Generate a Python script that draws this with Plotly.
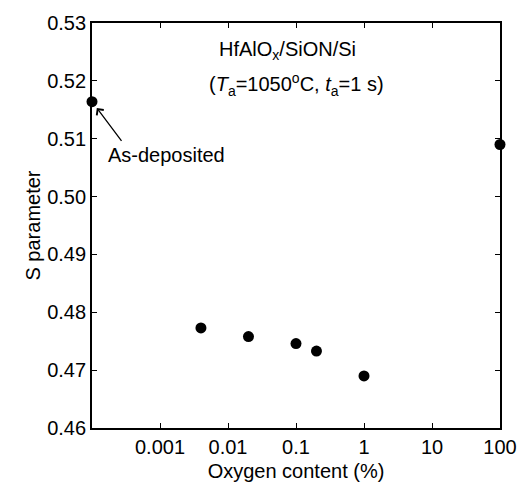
import plotly.graph_objects as go

oxygen_content = [0.0001, 0.004, 0.02, 0.1, 0.2, 1, 100]
s_parameter = [0.5164, 0.4773, 0.4758, 0.4746, 0.4733, 0.4690, 0.5090]
x_tick_vals = [0.001, 0.01, 0.1, 1, 10, 100]
x_tick_text = ["0.001", "0.01", "0.1", "1", "10", "100"]
y_tick_vals = [0.46, 0.47, 0.48, 0.49, 0.50, 0.51, 0.52, 0.53]

FONT = "Liberation Sans, Arial, sans-serif"
FS = 20

fig = go.Figure()
fig.add_trace(go.Scatter(
    x=oxygen_content, y=s_parameter, mode="markers",
    marker=dict(color="black", size=11, symbol="circle"),
    cliponaxis=False, showlegend=False,
))

axis_common = dict(
    showline=True, linecolor="black", linewidth=1.8, mirror="allticks",
    ticks="inside", ticklen=5, tickwidth=1.3, tickcolor="black",
    showgrid=False, zeroline=False,
    tickfont=dict(family=FONT, size=FS, color="black"),
)

fig.update_xaxes(
    type="log", range=[-4, 2], tickvals=x_tick_vals, ticktext=x_tick_text,
    title=dict(text="Oxygen content (%)", font=dict(family=FONT, size=FS, color="black"), standoff=7),
    **axis_common,
)
fig.update_yaxes(
    range=[0.46, 0.53], tickvals=y_tick_vals, tickformat=".2f",
    title=dict(text="S parameter", font=dict(family=FONT, size=FS, color="black"), standoff=1),
    **axis_common,
)

fig.add_annotation(x=0.48, xref="x domain", y=1 - (47 - 19) / 409, yref="paper", yanchor="middle",
                   text="HfAlO<sub>x</sub>/SiON/Si", showarrow=False,
                   font=dict(family=FONT, size=FS, color="black"))
fig.add_annotation(x=0.5, xref="x domain", y=1 - (81 - 19) / 409, yref="paper", yanchor="middle",
                   text="(<i>T</i><sub>a</sub>=1050<sup>o</sup>C, <i>t</i><sub>a</sub>=1 s)", showarrow=False,
                   font=dict(family=FONT, size=FS, color="black"))
fig.add_annotation(x=-4, y=0.5164, xref="x", yref="y",
                   ax=-4 + (123 - 92) / 68.8, ay=0.5164 - (140 - 99) / 5843,
                   axref="x", ayref="y",
                   text="", showarrow=True, arrowhead=4, arrowsize=1.3, arrowwidth=1.3,
                   arrowcolor="black", standoff=8)
fig.add_annotation(x=-4 + (106 - 92) / 68.8, y=0.5164 - (153 - 99) / 5843, xref="x", yref="y",
                   xanchor="left", yanchor="middle", text="As-deposited", showarrow=False,
                   font=dict(family=FONT, size=FS, color="black"))

fig.update_layout(
    width=529, height=491,
    margin=dict(l=92, r=24, t=19, b=63),
    paper_bgcolor="white", plot_bgcolor="white",
)

fig.write_html("out.html")
